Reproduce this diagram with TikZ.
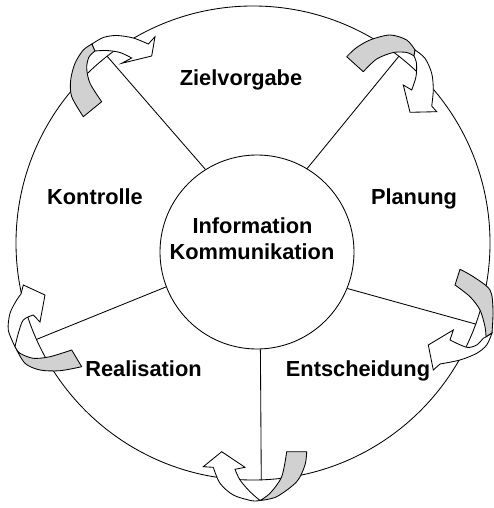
\documentclass[tikz,border=0pt]{standalone}
\usepackage{fontspec}
\setmainfont{Liberation Sans}
\begin{document}
\begin{tikzpicture}[x=1pt,y=-1pt, line width=0.85pt,
  lbl/.style={font=\bfseries\fontsize{21.8}{26}\selectfont, anchor=base, inner sep=0pt},
  ring/.style={circle, draw, inner sep=0pt, line width=0.85pt},
  backband/.style={fill=black!18, draw, line width=0.85pt, line join=round},
  frontband/.style={fill=white, draw, line width=0.85pt, line join=miter},
]
\useasboundingbox (0,0) rectangle (493,508);
\node[ring, minimum size=474pt] (outer) at (253,243) {};
\node[ring, minimum size=194pt] (inner) at (257,252) {};
\draw (inner.122) -- (outer.128);
\draw (inner.59) -- (outer.52);
\draw (inner.-22) -- (outer.-20);
\draw (inner.-88) -- (outer.-88);
\draw (inner.201) -- (outer.204);
\node[lbl] (info1) at (252.5,233.3) {Information};
\node[lbl] (info2) at (252,259) {Kommunikation};
\node[lbl] (ziel) at (241,86) {Zielvorgabe};
\node[lbl] (plan) at (414,204.3) {Planung};
\node[lbl] (kontr) at (95,204.3) {Kontrolle};
\node[lbl] (real) at (143.5,376.7) {Realisation};
\node[lbl] (ents) at (358,376.7) {Entscheidung};
% bottom arrow
\filldraw[backband] plot[smooth] coordinates {(260,500.5) (270,493.3) (281.7,476.7) (286.7,451.7)} -- plot[smooth] coordinates {(306.7,451.7) (305,465) (296.7,481.7) (276.7,496.7) (260,500.5)} -- cycle;
\filldraw[frontband] plot[smooth] coordinates {(260,500.5) (250,491.7) (240,480) (235,469.3)} -- (245,467.3) -- (221.7,451.7) -- (203.3,466.7) -- plot[smooth] coordinates {(213.3,467.3) (220,483.3) (233.3,495) (251.7,500.7) (260,500.5)} -- cycle;
% top-left arrow
\filldraw[backband] plot[smooth] coordinates {(83.3,116.7) (71.7,96.7) (70.7,80) (75,63.3) (83.3,50) (92,44)} -- plot[smooth] coordinates {(95,51) (89,57) (86.7,68) (90,83.3) (101.7,101.7)} -- cycle;
\filldraw[frontband] plot[smooth] coordinates {(92,44) (103.3,37.5) (116.7,35.5) (133.3,38) (148.3,44)} -- (155,36.7) -- (151.7,56) -- (121.7,63.3) -- plot[smooth] coordinates {(131.7,58) (120,52.5) (106.7,50.5) (95,51)} -- cycle;
% top-right arrow
\filldraw[backband] plot[smooth] coordinates {(346.7,56.7) (356,48) (370,40) (390,35) (406.7,40) (415,50)} -- plot[smooth] coordinates {(414,56) (406.7,52.5) (393.3,52.5) (376.7,59) (363.3,71.7)} -- cycle;
\filldraw[frontband] plot[smooth] coordinates {(415,50) (425,58.3) (431.7,73.3) (433.3,90) (431.7,106)} -- (436.7,111.7) -- (410,112.3) -- (403.3,85) -- plot[smooth] coordinates {(411.7,90) (416,76.7) (416.5,63.3) (414,56)} -- cycle;
% right arrow
\filldraw[backband] plot[smooth] coordinates {(455,285) (470,296.7) (480,310) (485,326.7) (486,337)} -- plot[smooth] coordinates {(492,333) (493,310) (490,290) (473.3,276.7) (460,269.3)} -- cycle;
\filldraw[frontband] plot[smooth] coordinates {(486,337) (483.3,338.3) (476.7,345) (466.7,347.3) (450,340)} -- (453.3,330) -- (428.3,345) -- (433.3,370) -- plot[smooth] coordinates {(440,364) (460,360) (476.7,353.3) (486.7,345) (492,333)} -- cycle;
% left arrow
\filldraw[backband] plot[smooth] coordinates {(15,346.7) (20,353.3) (33.3,358.3) (50,356.7) (71.7,350)} -- plot[smooth] coordinates {(81.7,366.7) (60,370.7) (40,370) (25,363.3) (15,346.7)} -- cycle;
\filldraw[frontband] plot[smooth] coordinates {(15,346.7) (8.3,330) (10,313.3) (16.7,300) (21,294)} -- (23.3,285) -- (45,295) -- (40,322) -- plot[smooth] coordinates {(33.3,315) (23.3,320) (18.3,333.3) (15,346.7)} -- cycle;
\end{tikzpicture}
\end{document}
